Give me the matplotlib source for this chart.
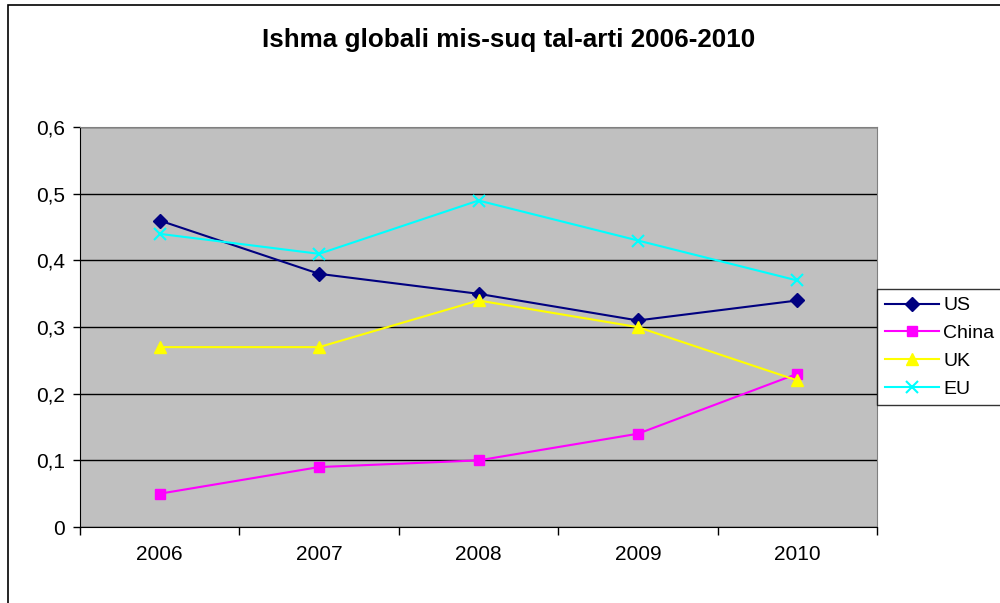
import numpy as np
import matplotlib
matplotlib.use("Agg")
from matplotlib import pyplot as plt
from matplotlib.patches import Rectangle
from matplotlib.ticker import FuncFormatter, FixedLocator

# data
years = ["2006", "2007", "2008", "2009", "2010"]
us = [0.46, 0.38, 0.35, 0.31, 0.34]
china = [0.05, 0.09, 0.10, 0.14, 0.23]
uk = [0.27, 0.27, 0.34, 0.30, 0.22]
eu = [0.44, 0.41, 0.49, 0.43, 0.37]

plt.rcParams['font.family'] = ['Liberation Sans', 'DejaVu Sans']

fig = plt.figure(figsize=(10, 6.03), dpi=100)
ax = fig.add_axes([0.080, 0.126, 0.797, 0.663])
ax.set_facecolor("#c0c0c0")

x = np.arange(len(years))
ax.plot(x, us, color="#000080", lw=1.5, marker="D", ms=7.5, label="US", zorder=3)
ax.plot(x, china, color="#ff00ff", lw=1.5, marker="s", ms=7.5, label="China", zorder=3)
ax.plot(x, uk, color="#ffff00", lw=1.5, marker="^", ms=9, label="UK", zorder=3)
ax.plot(x, eu, color="#00ffff", lw=1.5, marker="x", ms=9, mew=1.5, label="EU", zorder=3)

ax.set_xlim(-0.5, len(years) - 0.5)
ax.set_ylim(0, 0.6)
ax.set_yticks(np.arange(0, 0.61, 0.1))
ax.yaxis.set_major_formatter(FuncFormatter(lambda v, p: ("%.1f" % v).replace(".", ",") if v > 0.001 else "0"))
ax.grid(axis="y", color="black", lw=1)
ax.set_axisbelow(True)

ax.set_xticks(x)
ax.set_xticklabels(years)
ax.tick_params(axis="x", which="major", length=0, pad=13, labelsize=15)
ax.xaxis.set_minor_locator(FixedLocator(np.arange(-0.5, len(years), 1.0)))
ax.tick_params(axis="x", which="minor", length=6, width=1, direction="out")
ax.tick_params(axis="y", length=5, width=1, labelsize=15, pad=6)

for s in ["top", "right"]:
    ax.spines[s].set_color("#808080")
for s in ["left", "bottom"]:
    ax.spines[s].set_color("black")

fig.text(0.509, 0.934, "Ishma globali mis-suq tal-arti 2006-2010", ha="center", va="center",
         fontsize=18.7, fontweight="bold")

leg = fig.legend(loc="upper left", bbox_to_anchor=(0.877, 1 - 289 / 603), bbox_transform=fig.transFigure,
                 borderaxespad=0, fontsize=14, frameon=True, fancybox=False, edgecolor="black",
                 handlelength=2.8, handletextpad=0.2, labelspacing=0.52, borderpad=0.4)
leg.get_frame().set_linewidth(1)

# outer chart border (clipped at right/bottom in the reference)
fig.patches.append(Rectangle((0.008, -0.1), 2, 1.1 - 5 / 603, transform=fig.transFigure,
                             fill=False, edgecolor="black", lw=1.2))

fig.savefig("out.png", dpi=100)
